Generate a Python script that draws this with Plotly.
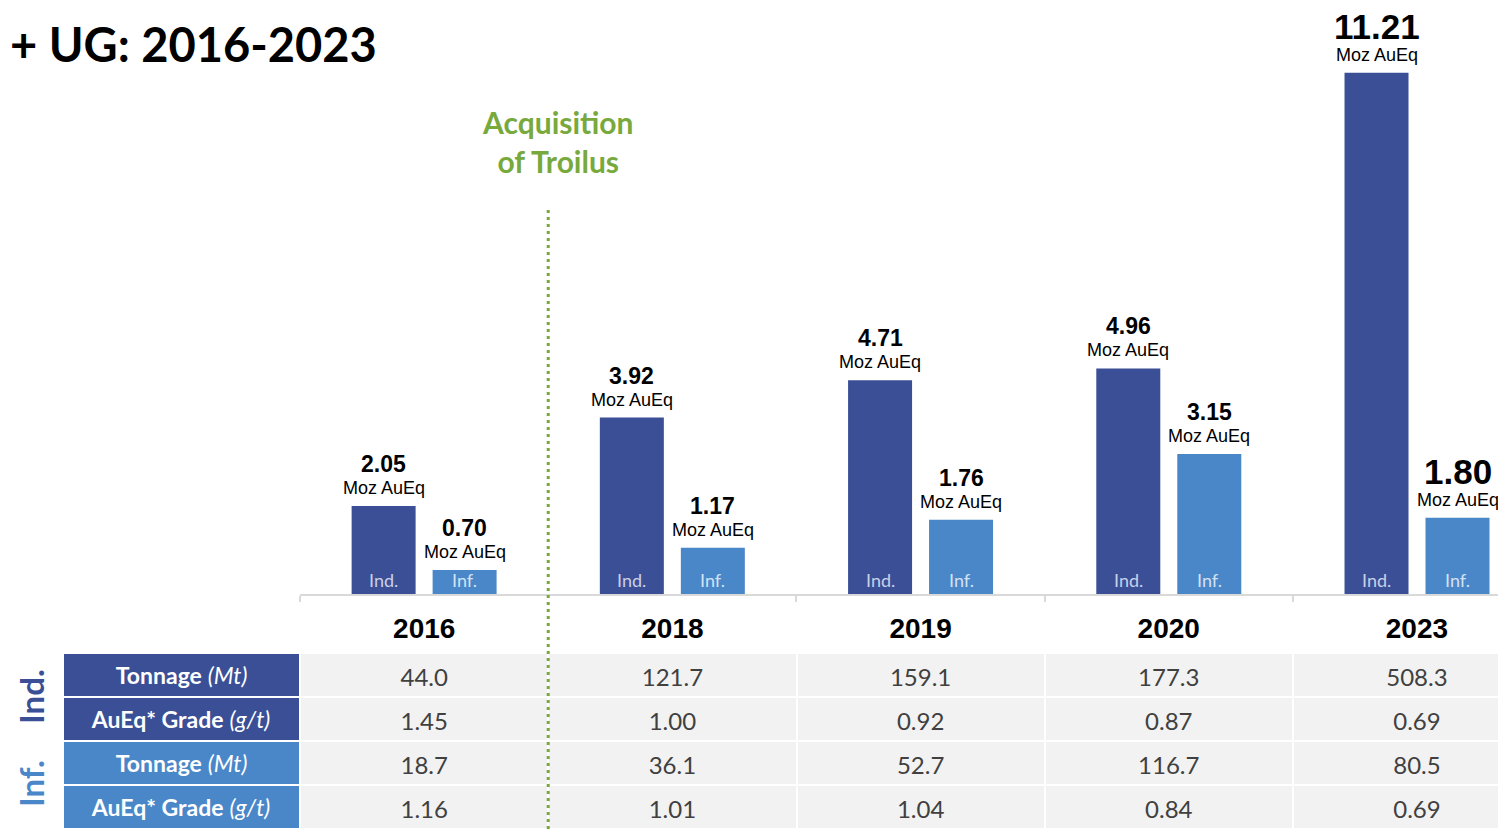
import plotly.graph_objects as go

# page has an 8px body margin, so the figure is 8px smaller than the window
OFF = 8
W, H = 1506 - OFF, 829 - OFF

# data
years = ["2016", "2018", "2019", "2020", "2023"]
ind_moz = [2.05, 3.92, 4.71, 4.96, 11.21]
inf_moz = [0.70, 1.17, 1.76, 3.15, 1.80]

row_labels = ["<b>Tonnage</b> <i>(Mt)</i>", "<b>AuEq* Grade</b> <i>(g/t)</i>",
              "<b>Tonnage</b> <i>(Mt)</i>", "<b>AuEq* Grade</b> <i>(g/t)</i>"]
ind_tonnage = ["44.0", "121.7", "159.1", "177.3", "508.3"]
ind_grade = ["1.45", "1.00", "0.92", "0.87", "0.69"]
inf_tonnage = ["18.7", "36.1", "52.7", "116.7", "80.5"]
inf_grade = ["1.16", "1.01", "1.04", "0.84", "0.69"]

IND = "#3a4f96"
INF = "#4a87c9"
GREEN = "#77a93c"
CAL = "Lato"
ARIAL = "Liberation Sans"


def px(p):   # window pixel -> paper x
    return (p - OFF) / W


def py(p):   # window pixel -> paper y
    return 1 - (p - OFF) / H


x = list(range(len(years)))
unit = 248.25          # px per category
bw = 64 / unit
half = 72.5 / unit
ctr = 40.5 / unit
scale = 47.3           # px per Moz
base = 603             # pixel of zero

fig = go.Figure()
fig.add_trace(go.Bar(x=x, y=ind_moz, width=bw, offset=-half, marker_color=IND,
                     marker_line_width=0, hoverinfo="skip"))
fig.add_trace(go.Bar(x=x, y=inf_moz, width=bw, offset=half - bw, marker_color=INF,
                     marker_line_width=0, hoverinfo="skip"))

# table under the bars: cell fills and row labels
blank = [[""] * 4 for _ in years]
fills = [[IND, IND, INF, INF]] + [["#f2f2f2"] * 4 for _ in years]
fig.add_trace(go.Table(
    domain=dict(x=[px(63), 1], y=[0, py(603)]),
    columnwidth=[237, 248, 248, 248, 248, 213],
    header=dict(values=[""] * 6, fill_color="white",
                line=dict(color="white", width=2), height=50),
    cells=dict(values=[row_labels] + blank, fill_color=fills,
               line=dict(color="white", width=2),
               font=dict(family=CAL, size=23, color="white"),
               align="center", height=44),
))
# years and values on a clear table; the last year column runs past the
# right edge in the reference, so a spacer column keeps its centre there
cols = [[a, b, c, d] for a, b, c, d in
        zip(ind_tonnage, ind_grade, inf_tonnage, inf_grade)]
cols = [[""] * 4] + cols[:4] + [[""] * 4] + cols[4:]
heads = [""] + ["<b>%s</b>" % y for y in years[:4]] + [""] + ["<b>%s</b>" % years[4]]
clear = "rgba(0,0,0,0)"
fig.add_trace(go.Table(
    domain=dict(x=[px(63), 1], y=[0, py(605)]),
    columnwidth=[237, 248, 248, 248, 248, 35, 178],
    header=dict(values=heads, fill_color=clear, line=dict(color=clear, width=0),
                font=dict(family=ARIAL, size=28, color="black"),
                align="center", height=55),
    cells=dict(values=cols, fill_color=clear, line=dict(color=clear, width=0),
               font=dict(family=CAL, size=24, color="#404040"),
               align="center", height=44),
))

ann = []
for i, yr in enumerate(years):
    big = yr == "2023"
    for v, dx in ((ind_moz[i], -ctr), (inf_moz[i], ctr)):
        ann.append(dict(x=i + dx, y=v, xref="x", yref="y", text="<b>%.2f</b>" % v,
                        showarrow=False, xanchor="center", yanchor="middle",
                        yshift=(46 if big else 42),
                        font=dict(family=ARIAL, size=(35 if big else 23), color="black")))
        ann.append(dict(x=i + dx, y=v, xref="x", yref="y", text="Moz AuEq",
                        showarrow=False, xanchor="center", yanchor="middle", yshift=18,
                        font=dict(family=ARIAL, size=18, color="black")))
    for dx, t, c in ((-ctr, "Ind.", "#c9d0e6"), (ctr, "Inf.", "#d3e2f3")):
        ann.append(dict(x=i + dx, y=py(593), xref="x", yref="paper", text=t,
                        showarrow=False, xanchor="center", yanchor="bottom",
                        font=dict(family=CAL, size=18, color=c)))

ann.append(dict(x=px(8), y=py(44), xref="paper", yref="paper",
                text="<b>+ UG: 2016-2023</b>", showarrow=False,
                xanchor="left", yanchor="middle",
                font=dict(family=CAL, size=47, color="black")))
ann.append(dict(x=0.5 + 10 / unit, y=py(141), xref="x", yref="paper",
                text="<b>Acquisition<br>of Troilus</b>", showarrow=False,
                xanchor="center", yanchor="middle",
                font=dict(family=CAL, size=30, color=GREEN)))
ann.append(dict(x=px(31), y=py(697), xref="paper", yref="paper",
                text="<b>Ind.</b>", showarrow=False, textangle=-90,
                xanchor="center", yanchor="middle",
                font=dict(family=CAL, size=33, color=IND)))
ann.append(dict(x=px(31), y=py(784), xref="paper", yref="paper",
                text="<b>Inf.</b>", showarrow=False, textangle=-90,
                xanchor="center", yanchor="middle",
                font=dict(family=CAL, size=33, color=INF)))

fig.update_layout(
    width=W, height=H,
    margin=dict(l=0, r=0, t=0, b=0),
    paper_bgcolor="white", plot_bgcolor="white",
    showlegend=False, barmode="overlay",
    xaxis=dict(domain=[px(300), 1], range=[-0.5, (1506 - 424) / unit],
               showgrid=False, zeroline=False, showline=True,
               linecolor="#d9d9d9", linewidth=2, ticks="outside",
               tickvals=[-0.5, 1.5, 2.5, 3.5], ticklen=9, tickwidth=2,
               tickcolor="#d9d9d9", showticklabels=False, fixedrange=True),
    yaxis=dict(domain=[py(594), 1], range=[(base - 594) / scale, (base - OFF) / scale],
               visible=False, fixedrange=True),
    annotations=ann,
    shapes=[dict(type="line", xref="x", yref="paper", x0=0.5, x1=0.5,
                 y0=py(210), y1=0, layer="above",
                 line=dict(color=GREEN, width=3, dash="3px,4px"))],
)

fig.write_html("out.html")
